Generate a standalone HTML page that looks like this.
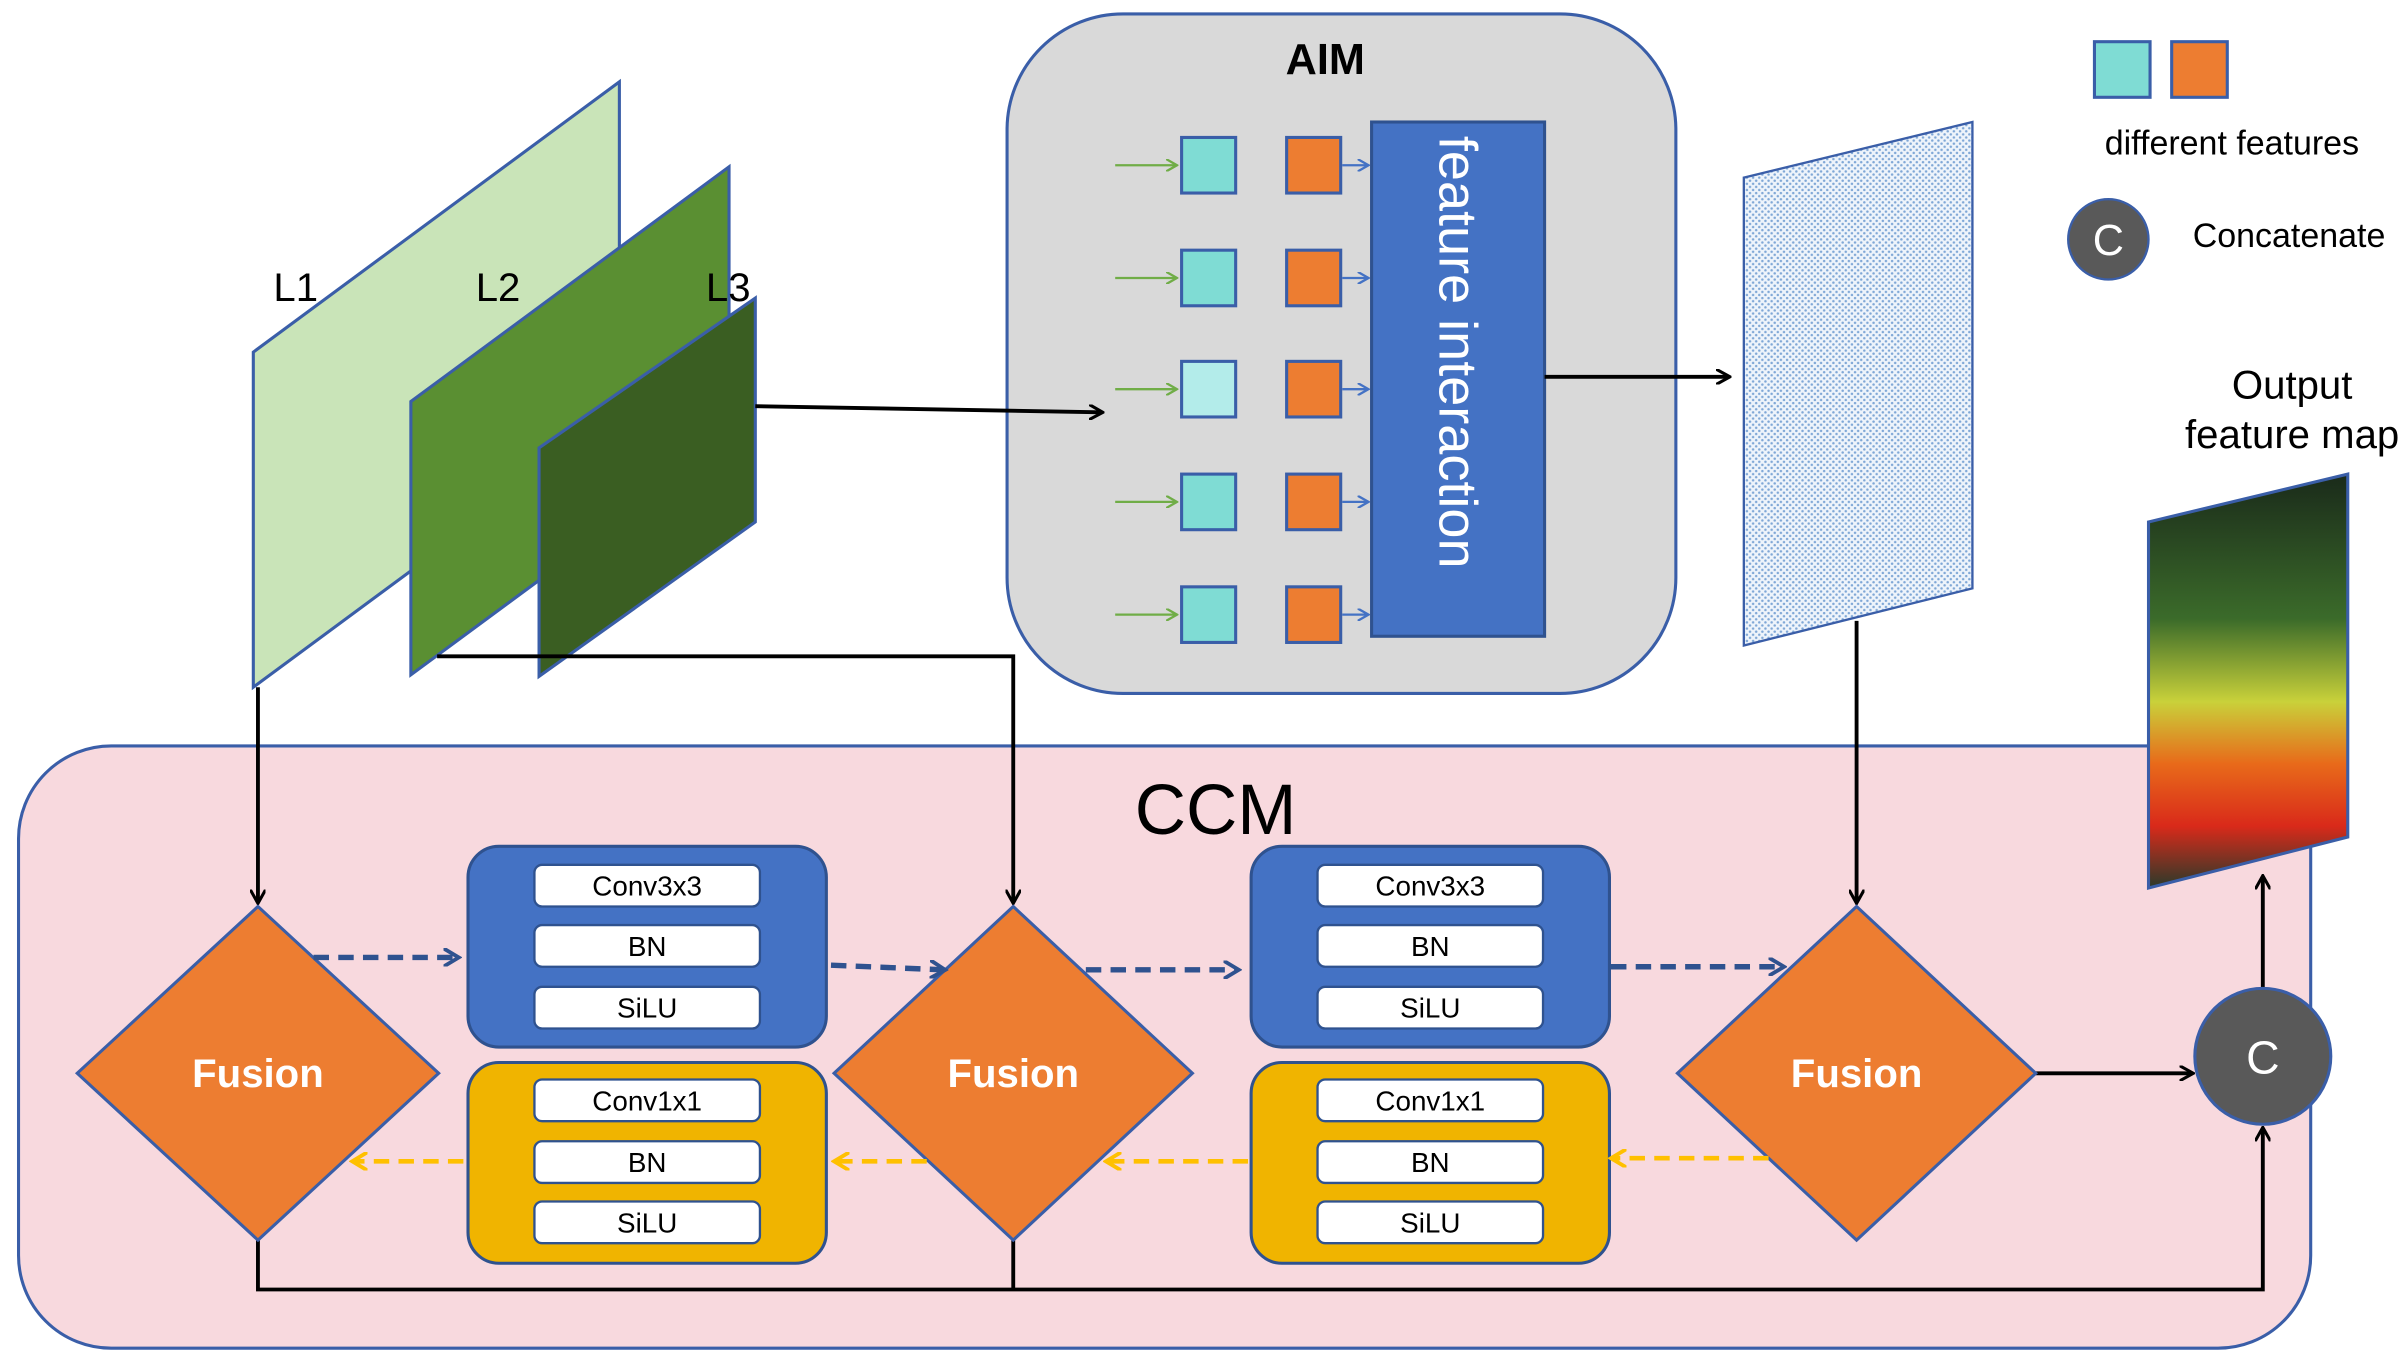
<!DOCTYPE html>
<html><head><meta charset="utf-8"><style>
html,body{margin:0;padding:0;background:#fff;}
svg{display:block;}
text{font-family:"Liberation Sans",Arial,sans-serif;}
</style></head><body>
<svg width="2408" height="1359" viewBox="0 0 1559 880" preserveAspectRatio="none" xmlns="http://www.w3.org/2000/svg">
<defs>
<marker id="ab" markerWidth="10" markerHeight="10" refX="8" refY="5" orient="auto" markerUnits="userSpaceOnUse"><path d="M0,0 L9,5 L0,10" fill="none" stroke="#000" stroke-width="2"/></marker>
<marker id="abl" markerWidth="12" markerHeight="12" refX="9" refY="6" orient="auto" markerUnits="userSpaceOnUse"><path d="M0,0 L10,6 L0,12" fill="none" stroke="#2f528f" stroke-width="2.5"/></marker>
<marker id="ay" markerWidth="12" markerHeight="12" refX="9" refY="6" orient="auto" markerUnits="userSpaceOnUse"><path d="M0,0 L10,6 L0,12" fill="none" stroke="#ffc000" stroke-width="2.5"/></marker>
<marker id="ag" markerWidth="8" markerHeight="8" refX="7" refY="4" orient="auto" markerUnits="userSpaceOnUse"><path d="M0,0 L7,4 L0,8" fill="none" stroke="#70ad47" stroke-width="1.5"/></marker>
<marker id="abb" markerWidth="8" markerHeight="8" refX="7" refY="4" orient="auto" markerUnits="userSpaceOnUse"><path d="M0,0 L7,4 L0,8" fill="none" stroke="#4472c4" stroke-width="1.5"/></marker>
<pattern id="dots" width="4" height="4" patternUnits="userSpaceOnUse"><rect width="4" height="4" fill="#eef4fb"/><circle cx="1" cy="1" r="0.8" fill="#7fa7d6"/><circle cx="3" cy="3" r="0.8" fill="#7fa7d6"/></pattern>
<linearGradient id="img" x1="0" y1="0" x2="0" y2="1">
<stop offset="0" stop-color="#1a2a1a"/><stop offset="0.35" stop-color="#3b6b2a"/><stop offset="0.55" stop-color="#c9d13a"/><stop offset="0.7" stop-color="#e86a1a"/><stop offset="0.85" stop-color="#d92a1a"/><stop offset="1" stop-color="#2a3a2a"/></linearGradient>
</defs>

<rect x="12" y="483" width="1484" height="390" rx="60" fill="#f8d9de" stroke="#3a5ea8" stroke-width="2"/>
<text x="787" y="540" font-size="46" text-anchor="middle">CCM</text>

<rect x="652" y="9" width="433" height="440" rx="75" fill="#d9d9d9" stroke="#3a5ea8" stroke-width="2"/>
<text x="858" y="48" font-size="28" font-weight="bold" text-anchor="middle">AIM</text>
<rect x="888" y="79" width="112" height="333" fill="#4472c4" stroke="#2f528f" stroke-width="2"/>
<text transform="translate(932,88) rotate(90)" font-size="35" fill="#fff">feature interaction</text>
<g stroke="#3a5ea8" stroke-width="2">
<rect x="765" y="89" width="35" height="36" fill="#7fdcd4"/><rect x="833" y="89" width="35" height="36" fill="#ed7d31"/>
<rect x="765" y="162" width="35" height="36" fill="#7fdcd4"/><rect x="833" y="162" width="35" height="36" fill="#ed7d31"/>
<rect x="765" y="234" width="35" height="36" fill="#b3ecea"/><rect x="833" y="234" width="35" height="36" fill="#ed7d31"/>
<rect x="765" y="307" width="35" height="36" fill="#7fdcd4"/><rect x="833" y="307" width="35" height="36" fill="#ed7d31"/>
<rect x="765" y="380" width="35" height="36" fill="#7fdcd4"/><rect x="833" y="380" width="35" height="36" fill="#ed7d31"/>
</g>
<g stroke="#70ad47" stroke-width="1.5" marker-end="url(#ag)">
<line x1="722" y1="107" x2="762" y2="107"/><line x1="722" y1="180" x2="762" y2="180"/><line x1="722" y1="252" x2="762" y2="252"/><line x1="722" y1="325" x2="762" y2="325"/><line x1="722" y1="398" x2="762" y2="398"/>
</g>
<g stroke="#4472c4" stroke-width="1.5" marker-end="url(#abb)">
<line x1="869" y1="107" x2="886" y2="107"/><line x1="869" y1="180" x2="886" y2="180"/><line x1="869" y1="252" x2="886" y2="252"/><line x1="869" y1="325" x2="886" y2="325"/><line x1="869" y1="398" x2="886" y2="398"/>
</g>

<polygon points="164,228 401,53 401,270 164,445" fill="#c9e4b8" stroke="#3a5ea8" stroke-width="2"/>
<polygon points="266,260 472,108 472,285 266,437" fill="#5a8f32" stroke="#3a5ea8" stroke-width="2"/>
<polygon points="349,290 489,193 489,338 349,438" fill="#3a5e22" stroke="#3a5ea8" stroke-width="2"/>
<text x="177" y="195" font-size="26">L1</text>
<text x="308" y="195" font-size="26">L2</text>
<text x="457" y="195" font-size="26">L3</text>
<line x1="489" y1="263" x2="713" y2="267" stroke="#000" stroke-width="2.5" marker-end="url(#ab)"/>
<line x1="1000" y1="244" x2="1119" y2="244" stroke="#000" stroke-width="2.5" marker-end="url(#ab)"/>

<polygon points="1129,115 1277,79 1277,381 1129,418" fill="url(#dots)" stroke="#3a5ea8" stroke-width="1.5"/>

<rect x="1356" y="27" width="36" height="36" fill="#7fdcd4" stroke="#3a5ea8" stroke-width="2"/>
<rect x="1406" y="27" width="36" height="36" fill="#ed7d31" stroke="#3a5ea8" stroke-width="2"/>
<text x="1445" y="100" font-size="22" text-anchor="middle">different features</text>
<circle cx="1365" cy="155" r="26" fill="#595959" stroke="#3a5ea8" stroke-width="1.5"/>
<text x="1365" y="165" font-size="28" fill="#fff" text-anchor="middle">C</text>
<text x="1482" y="160" font-size="22" text-anchor="middle">Concatenate</text>
<text x="1484" y="258" font-size="26" text-anchor="middle">Output</text>
<text x="1484" y="290" font-size="26" text-anchor="middle">feature map</text>
<polygon points="1391,338 1520,307 1520,542 1391,575" fill="url(#img)" stroke="#3a5ea8" stroke-width="2"/>

<g stroke="#000" stroke-width="2.5" fill="none">
<line x1="167" y1="445" x2="167" y2="584" marker-end="url(#ab)"/>
<polyline points="283,425 656,425 656,584" marker-end="url(#ab)"/>
<line x1="1202" y1="402" x2="1202" y2="584" marker-end="url(#ab)"/>
<line x1="1318" y1="695" x2="1419" y2="695" marker-end="url(#ab)"/>
<polyline points="167,803 167,835 1465,835 1465,731" marker-end="url(#ab)"/>
<line x1="656" y1="803" x2="656" y2="835"/>
<line x1="1465" y1="640" x2="1465" y2="568" marker-end="url(#ab)"/>
</g>

<g stroke="#3a5ea8" stroke-width="2" fill="#ed7d31">
<polygon points="167,587 284,695 167,803 50,695"/>
<polygon points="656,587 772,695 656,803 540,695"/>
<polygon points="1202,587 1318,695 1202,803 1086,695"/>
</g>
<g font-size="26" font-weight="bold" fill="#fff" text-anchor="middle">
<text x="167" y="704">Fusion</text><text x="656" y="704">Fusion</text><text x="1202" y="704">Fusion</text>
</g>
<circle cx="1465" cy="684" r="44" fill="#595959" stroke="#3a5ea8" stroke-width="2"/>
<text x="1465" y="695" font-size="30" fill="#fff" text-anchor="middle">C</text>

<g stroke="#2f528f" stroke-width="2">
<rect x="303" y="548" width="232" height="130" rx="20" fill="#4472c4"/>
<rect x="810" y="548" width="232" height="130" rx="20" fill="#4472c4"/>
<rect x="303" y="688" width="232" height="130" rx="20" fill="#f0b400"/>
<rect x="810" y="688" width="232" height="130" rx="20" fill="#f0b400"/>
</g>
<g fill="#fff" stroke="#2f528f" stroke-width="1.5">
<rect x="346" y="560" width="146" height="27" rx="5"/><rect x="346" y="599" width="146" height="27" rx="5"/><rect x="346" y="639" width="146" height="27" rx="5"/>
<rect x="853" y="560" width="146" height="27" rx="5"/><rect x="853" y="599" width="146" height="27" rx="5"/><rect x="853" y="639" width="146" height="27" rx="5"/>
<rect x="346" y="699" width="146" height="27" rx="5"/><rect x="346" y="739" width="146" height="27" rx="5"/><rect x="346" y="778" width="146" height="27" rx="5"/>
<rect x="853" y="699" width="146" height="27" rx="5"/><rect x="853" y="739" width="146" height="27" rx="5"/><rect x="853" y="778" width="146" height="27" rx="5"/>
</g>
<g font-size="18" text-anchor="middle">
<text x="419" y="580">Conv3x3</text><text x="419" y="619">BN</text><text x="419" y="659">SiLU</text>
<text x="926" y="580">Conv3x3</text><text x="926" y="619">BN</text><text x="926" y="659">SiLU</text>
<text x="419" y="719">Conv1x1</text><text x="419" y="759">BN</text><text x="419" y="798">SiLU</text>
<text x="926" y="719">Conv1x1</text><text x="926" y="759">BN</text><text x="926" y="798">SiLU</text>
</g>

<g stroke="#2f528f" stroke-width="3.5" stroke-dasharray="10,6" fill="none" marker-end="url(#abl)">
<line x1="203" y1="620" x2="296" y2="620"/>
<line x1="538" y1="625" x2="611" y2="628"/>
<line x1="703" y1="628" x2="801" y2="628"/>
<line x1="1043" y1="626" x2="1154" y2="626"/>
</g>
<g stroke="#ffc000" stroke-width="3" stroke-dasharray="10,6" fill="none" marker-end="url(#ay)">
<line x1="300" y1="752" x2="229" y2="752"/>
<line x1="600" y1="752" x2="541" y2="752"/>
<line x1="808" y1="752" x2="717" y2="752"/>
<line x1="1145" y1="750" x2="1044" y2="750"/>
</g>
</svg>
</body></html>
